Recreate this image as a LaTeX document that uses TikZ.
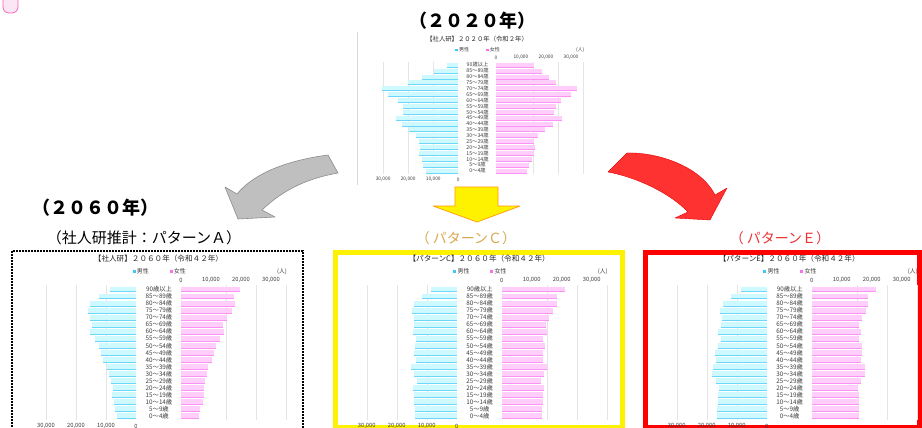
\documentclass[tikz,border=0pt]{standalone}
\usepackage{fontspec}
\setmainfont{Noto Sans CJK JP}
\usetikzlibrary{positioning}

\definecolor{malefill}{RGB}{206,250,255}
\definecolor{maleline}{RGB}{60,200,250}
\definecolor{femalefill}{RGB}{255,206,250}
\definecolor{femaleline}{RGB}{250,110,240}
\definecolor{goldtext}{RGB}{215,168,80}
\definecolor{redtext}{RGB}{235,50,50}
\definecolor{charttext}{RGB}{60,60,60}
\definecolor{arrowred}{RGB}{255,50,50}

% one pyramid in local units: male zero at 0, female zero at 45, 3 units per 1000
\newcommand{\pyramid}[3]{%
	\foreach \k in {1,2,3}{
		\draw[gridline] (-\k*30,-4) -- (-\k*30,130.7);
		\draw[gridline] (60+\k*30,-4) -- (60+\k*30,130.7);
	}
	\foreach \m/\f [count=\i from 0] in {#3}{
		\fill[malefill] ({-\m*3},{\i*7.04-2.6}) rectangle (0,{\i*7.04+2.6});
		\draw[maleedge] ({-\m*3},{\i*7.04+2.4}) -- (0,{\i*7.04+2.4});
		\fill[femalefill] (45,{\i*7.04-2.6}) rectangle ({45+\f*3},{\i*7.04+2.6});
		\draw[femaleedge] (45,{\i*7.04+2.4}) -- ({45+\f*3},{\i*7.04+2.4});
	}
	\foreach \lab [count=\i from 0] in {90歳以上,85～89歳,80～84歳,75～79歳,70～74歳,65～69歳,60～64歳,55～59歳,50～54歳,45～49歳,40～44歳,35～39歳,30～34歳,25～29歳,20～24歳,15～19歳,10～14歳,5～9歳,0～4歳}
		\node[agelab] (#1-a\i) at (23,{\i*7.04}) {\lab};
	\node[charttitle] (#1-title) at (22.5,-31) {#2};
	\node[legkey,fill=maleline] (#1-mkey) at (-2,-18) {};
	\node[legtext,right=1pt of #1-mkey] (#1-mlab) {男性};
	\node[legkey,fill=femaleline] (#1-fkey) at (35,-18) {};
	\node[legtext,right=1pt of #1-fkey] (#1-flab) {女性};
	\node[axislab] (#1-unit) at (146,-18) {(人)};
	\node[axislab] (#1-t0) at (45,-9) {0};
	\foreach \k in {1,2,3}
		\node[axislab] (#1-t\k) at (45+\k*30,-9) {\k0,000};
	\node[axislab] (#1-b0) at (0,137) {0};
	\foreach \k in {1,2,3}
		\node[axislab] (#1-b\k) at (-\k*30,137) {\k0,000};
}

\begin{document}
\begin{tikzpicture}[x=1pt,y=-1pt,
		gridline/.style={draw=black!10,line width=0.4pt},
		maleedge/.style={draw=maleline!75!white,line width=0.5pt},
		femaleedge/.style={draw=femaleline!75!white,line width=0.5pt},
		agelab/.style={inner sep=0pt,text=charttext,font=\fontsize{6.3}{7}\selectfont},
		axislab/.style={inner sep=0pt,text=charttext,font=\fontsize{5.8}{7}\selectfont},
		legtext/.style={inner sep=0pt,text=charttext,font=\fontsize{6}{7}\selectfont},
		legkey/.style={inner sep=0pt,minimum size=3pt},
		charttitle/.style={inner sep=0pt,text=black!85,font=\fontsize{7.6}{9}\selectfont},
		yeartitle/.style={inner sep=0pt,font=\fontsize{18}{20}\selectfont\bfseries},
		casetitle/.style={inner sep=0pt,font=\fontsize{14}{16}\selectfont},
		bigframe/.style={line width=5pt},
		grayarrow/.style={fill=black!25,draw=black!45,line width=0.6pt,line join=round},
		redarrow/.style={fill=arrowred,draw=red!90!black,line width=0.4pt,line join=round},
		yellowarrow/.style={fill=yellow,draw=orange!80!yellow,line width=0.7pt,line join=round}]
	\useasboundingbox (0,0) rectangle (922,428);
	\clip (0,0) rectangle (922,428);

	\draw[fill=magenta!10,draw=magenta!60,line width=0.8pt,rounded corners=6pt] (3,-12) rectangle (18,13);

	% 2020
	\node[yeartitle] (y2020) at (472,21) {（２０２０年）};
	\draw[black!15,line width=0.8pt] (357,32) -- (357,185);
	\begin{scope}[shift={(458.3,65)},scale=0.835,transform shape]
		\pyramid{p2020}{【社人研】２０２０年（令和２年）}{4.7/15.3,9.6/18.3,14.3/21.2,20/24,30.4/32.3,28/30,24/25.9,22/23.9,22/23.2,25/26.4,22.4/22.8,19.7/19.6,17/16.7,15.6/15.2,15.2/15.6,15.6/15.2,14.3/14.3,14/13.2,12.9/12.4}
	\end{scope}

	% arrows
	\draw[grayarrow] (328,155) .. controls (290,160) and (255,172) .. (237,194) -- (225,187) -- (238,219) -- (275,217) -- (262,210) .. controls (285,188) and (310,178) .. (338,173) -- cycle;
	\draw[yellowarrow] (455,187) -- (498,187) -- (498,206) -- (520,206) -- (477,222) -- (433,206) -- (455,206) -- cycle;
	\draw[redarrow] (627,153) .. controls (655,152) and (700,165) .. (715,195) -- (727,188) -- (710,220) -- (675,218) -- (688,212) .. controls (672,195) and (640,178) .. (608,172) -- cycle;

	% 2060
	\node[yeartitle] (y2060) at (95,208) {（２０６０年）};
	\node[casetitle,font=\fontsize{15}{17}\selectfont] (caseA) at (144,238) {（社人研推計：パターンＡ）};
	\node[casetitle,text=goldtext] (caseC) at (466,238) {（ パターンＣ）};
	\node[casetitle,text=redtext] (caseE) at (780,238) {（ パターンＥ）};

	\draw[line width=1.6pt,dash pattern=on 1.6pt off 1.4pt] (12,251) rectangle (303,440);
	\draw[bigframe,yellow] (335.5,252.5) rectangle (622.5,427);
	\draw[bigframe,red] (645.5,252.5) rectangle (919.5,427);

	\begin{scope}[shift={(136,289.3)}]
		\pyramid{pA}{【社人研】２０６０年（令和４２年）}{8.7/19.7,12.3/17.7,15.3/18,15.9/17.1,15.3/15.2,14.8/14.1,15.3/14.4,13.7/13,12.3/11.7,11.7/10.9,10.9/10.2,9.6/9.1,8.9/8.6,8.3/7.9,7.6/7.6,7.9/7.6,7.3/7.2,6.9/6.4,6.4/6.1}
	\end{scope}
	\begin{scope}[shift={(456.7,289.3)}]
		\pyramid{pC}{【パターンC】２０６０年（令和４２年）}{8.6/21.1,11.7/18.3,14.4/18.3,15/17.2,14.4/15.7,14.2/14.7,14.7/15,13.6/13.9,14/14.3,14.2/13.9,13.7/13.7,15.3/15,14.4/14,13.3/13,14.7/14,14.4/13.9,14.1/13.7,13.9/13.4,13.8/13.4}
	\end{scope}
	\begin{scope}[shift={(766.7,289.3)}]
		\pyramid{pE}{【パターンE】２０６０年（令和４２年）}{8.6/21.3,12/18.6,14.7/18.9,15.6/18,15/16.6,15.4/15.7,16.2/16.3,15.4/15.6,16.4/16.6,17.2/16.8,16.9/16.3,18/17.6,18.3/17.9,16.9/16.3,15.8/15.3,16.1/15.6,16.3/15.9,16.7/15.9,16.7/15.9}
	\end{scope}
\end{tikzpicture}
\end{document}
